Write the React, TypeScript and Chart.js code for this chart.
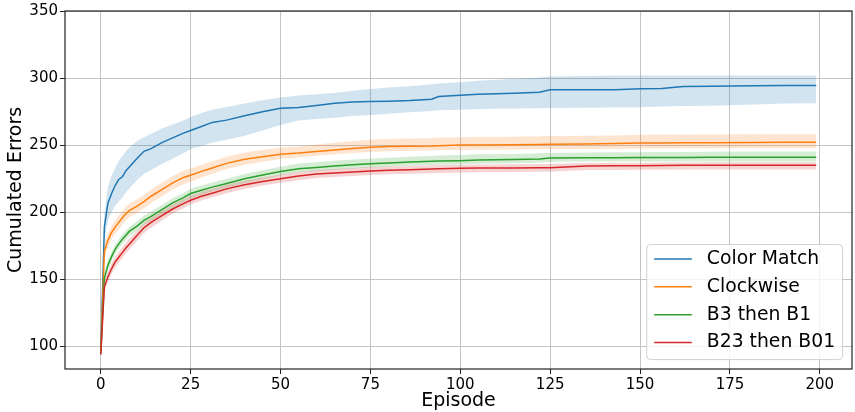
import React, { useEffect, useRef } from 'react';
import { Chart, registerables } from 'chart.js';

Chart.register(...registerables);

const EPISODES = [0, 1, 2, 3, 4, 5, 6, 7, 8, 10, 12, 14, 17, 20, 23, 25, 28, 31, 35, 40, 45, 50, 55, 60, 65, 70, 75, 80, 86, 92, 94, 100, 105, 115, 122, 125, 135, 143, 150, 156, 162, 170, 182, 190, 199];

const X_TICKS = [0, 25, 50, 75, 100, 125, 150, 175, 200];
const Y_TICKS = [100, 150, 200, 250, 300, 350];

const SERIES_LABELS = ['Color Match', 'Clockwise', 'B3 then B1', 'B23 then B01'];
const COLORS = ['#1f77b4', '#ff7f0e', '#2ca02c', '#d62728'];
const BAND_COLORS = ['rgba(31,119,180,0.2)', 'rgba(255,127,14,0.2)', 'rgba(44,160,44,0.2)', 'rgba(214,39,40,0.2)'];

const COLOR_MATCH_MEAN = [96, 189, 207, 214, 220, 224.5, 226.5, 231, 234, 240, 245.5, 247.5, 252, 255.5, 259, 261, 264, 267, 268.7, 272, 275, 277.5, 278.1, 279.6, 281.3, 282.2, 282.6, 282.8, 283.3, 284.3, 286.3, 287.3, 288, 288.7, 289.5, 291.3, 291.3, 291.3, 292, 292.2, 293.8, 294, 294.4, 294.5, 294.5];
const COLOR_MATCH_UPPER = [97, 199, 219, 227, 233, 238, 242, 245.5, 248.5, 253, 256, 258.5, 262.5, 265.5, 268.5, 271, 274, 276.5, 278.5, 281, 283.5, 285.5, 287, 288, 289, 290.5, 291.8, 293, 294, 295.5, 296, 297, 298, 299.5, 300.5, 301.2, 301.5, 302, 302, 302, 302, 302, 302, 302, 302];
const COLOR_MATCH_LOWER = [95, 179, 194, 200, 205, 208, 211, 215, 218, 224, 228.5, 231.5, 236, 240, 244, 247, 249.5, 252, 254, 257, 261, 265, 268.5, 269.5, 270.5, 271.8, 272.6, 273.5, 274.5, 275.5, 276, 276.5, 277, 277.4, 277.6, 277.8, 278, 278.1, 278.3, 278.8, 279.2, 279.5, 280.3, 281, 281.3];

const CLOCKWISE_MEAN = [95, 171, 179.3, 185, 189, 192.5, 196, 199, 201.5, 204.5, 208, 212, 217, 222, 226, 227.7, 230.5, 233, 236.5, 239.5, 241.5, 243.3, 244.2, 245.4, 246.5, 247.5, 248.5, 249, 249.3, 249.5, 249.7, 250.2, 250.2, 250.4, 250.6, 250.7, 251, 251.2, 251.7, 251.7, 251.8, 251.9, 252.1, 252.2, 252.2];
const CLOCKWISE_UPPER = [96, 177, 184.5, 190, 194, 197.5, 201, 204, 206.5, 209.5, 213, 217, 222, 227, 231, 232.7, 235.5, 238, 241.5, 244.5, 246.5, 248.2, 249.1, 250.5, 251.8, 252.9, 254, 254.6, 255, 255.3, 255.5, 256, 256.1, 256.4, 256.7, 256.8, 257.1, 257.3, 257.8, 257.8, 257.9, 258, 258.2, 258.2, 258.2];
const CLOCKWISE_LOWER = [94, 165, 174, 180, 184, 187.5, 191, 194, 196.5, 199.5, 203, 207, 212, 217, 221, 223, 226, 228.7, 232.3, 235.5, 237.7, 239.7, 241, 242.2, 243.3, 244.2, 245, 245.5, 245.8, 246, 246.2, 246.5, 246.6, 246.8, 247, 247, 247.2, 247.3, 247.6, 247.6, 247.7, 247.7, 247.8, 247.8, 247.8];

const B3_B1_MEAN = [95, 151, 160.7, 167, 172.5, 176.5, 180, 183, 186, 189.5, 194, 197, 202, 207, 211, 214, 216.5, 218.8, 221.5, 225, 227.8, 230.5, 232.5, 233.5, 234.6, 235.5, 236.2, 236.8, 237.5, 238, 238.2, 238.5, 239, 239.3, 239.8, 240.5, 240.6, 240.7, 240.8, 240.8, 240.9, 241, 241, 241, 241];
const B3_B1_UPPER = [96, 155, 164.5, 170.5, 176, 180, 183.5, 186.5, 189.5, 193, 197.5, 200.5, 205.5, 210.5, 214.5, 217.5, 220, 222.3, 225, 228.5, 231.3, 234, 236.3, 237.3, 238.4, 239.3, 240, 240.7, 241.5, 242, 242.3, 242.7, 243.2, 243.5, 244, 244.3, 244.5, 244.7, 244.8, 244.9, 245, 245.2, 245.3, 245.3, 245.3];
const B3_B1_LOWER = [94, 147, 157, 163.5, 169, 173, 176.5, 179.5, 182.5, 186, 190.5, 193.5, 198.5, 203.5, 207.5, 210.5, 213, 215.5, 218.3, 221.8, 224.7, 227.5, 229.8, 230.8, 231.8, 232.7, 233.4, 234, 234.7, 235.2, 235.4, 235.7, 236.2, 236.5, 237, 237.7, 237.8, 237.8, 237.8, 237.8, 237.8, 237.8, 237.8, 237.8, 237.8];

const B23_B01_MEAN = [94, 144.5, 152, 158, 163, 166.5, 170, 173.5, 176.5, 182.5, 188.5, 192.5, 197.5, 202.5, 206.5, 209, 212, 214.3, 217.5, 220.5, 223, 225, 227, 228.5, 229.3, 230, 230.8, 231.3, 231.8, 232.3, 232.5, 232.8, 233, 233, 233.2, 233.3, 234.6, 234.7, 234.8, 234.9, 235, 235.1, 235.1, 235.1, 235.1];
const B23_B01_UPPER = [95, 148.5, 156, 162, 167, 170.5, 174, 177.5, 180.5, 186, 192, 196, 201, 205.8, 209.8, 212.2, 215.2, 217.5, 220.6, 223.5, 226, 228, 230.2, 231.5, 232.3, 233, 233.7, 234.2, 234.6, 235, 235.2, 235.5, 235.7, 235.8, 236, 236.1, 236.8, 236.9, 237, 237.1, 237.2, 237.3, 237.3, 237.3, 237.3];
const B23_B01_LOWER = [93, 140.5, 148, 154, 159, 162.5, 166, 169.5, 172.5, 178.5, 184.5, 188.5, 194, 199, 203, 205.8, 208.8, 211.2, 214.3, 217.4, 220, 222, 224, 225.5, 226.3, 227, 227.8, 228.3, 228.8, 229.2, 229.4, 229.7, 229.9, 230, 230.2, 230.3, 231.5, 231.6, 231.7, 231.8, 231.9, 232, 232, 232, 232];

const MEANS = [COLOR_MATCH_MEAN, CLOCKWISE_MEAN, B3_B1_MEAN, B23_B01_MEAN];
const UPPERS = [COLOR_MATCH_UPPER, CLOCKWISE_UPPER, B3_B1_UPPER, B23_B01_UPPER];
const LOWERS = [COLOR_MATCH_LOWER, CLOCKWISE_LOWER, B3_B1_LOWER, B23_B01_LOWER];

const FONT = 'DejaVu Sans';

const toPoints = (ys: number[]) => EPISODES.map((x, i) => ({ x, y: ys[i] }));

const framePlugin = {
  id: 'frame',
  afterDatasetsDraw(chart: any) {
    const { ctx, chartArea: ca } = chart;
    ctx.save();
    ctx.strokeStyle = '#222';
    ctx.lineWidth = 1.2;
    ctx.strokeRect(ca.left, ca.top, ca.right - ca.left, ca.bottom - ca.top);
    ctx.restore();
  },
};

const legendPlugin = {
  id: 'mplLegend',
  afterDraw(chart: any) {
    const { ctx, chartArea: ca } = chart;
    const fs = 18.8;
    ctx.save();
    ctx.font = `${fs}px "${FONT}"`;
    const maxW = Math.max(...SERIES_LABELS.map((l) => ctx.measureText(l).width));
    const pad = 0.4 * fs;
    const handle = 2 * fs;
    const hpad = 0.8 * fs;
    const w = pad + handle + hpad + maxW + pad;
    const h = 6.12 * fs;
    const x = ca.right - 0.5 * fs - w;
    const y = ca.bottom - 0.5 * fs - h;
    ctx.beginPath();
    if ((ctx as any).roundRect) (ctx as any).roundRect(x, y, w, h, 4);
    else ctx.rect(x, y, w, h);
    ctx.fillStyle = 'rgba(255,255,255,0.8)';
    ctx.fill();
    ctx.strokeStyle = 'rgba(204,204,204,0.9)';
    ctx.lineWidth = 1;
    ctx.stroke();
    SERIES_LABELS.forEach((label, i) => {
      const cy = y + 0.77 * fs + i * 1.48 * fs;
      ctx.strokeStyle = COLORS[i];
      ctx.lineWidth = 1.5;
      ctx.beginPath();
      ctx.moveTo(x + pad, cy);
      ctx.lineTo(x + pad + handle, cy);
      ctx.stroke();
      ctx.fillStyle = '#000';
      ctx.textBaseline = 'middle';
      ctx.textAlign = 'left';
      ctx.fillText(label, x + pad + handle + hpad, cy);
    });
    ctx.restore();
  },
};

export default function App() {
  const canvasRef = useRef<HTMLCanvasElement | null>(null);

  useEffect(() => {
    if (!canvasRef.current) return;
    const datasets: any[] = [];
    SERIES_LABELS.forEach((label, i) => {
      const lowerIdx = datasets.length;
      datasets.push({
        label: label + ' lower',
        data: toPoints(LOWERS[i]),
        borderWidth: 0,
        borderColor: 'rgba(0,0,0,0)',
        pointRadius: 0,
        fill: false,
        order: 10 - i,
      });
      datasets.push({
        label: label + ' upper',
        data: toPoints(UPPERS[i]),
        borderWidth: 0,
        borderColor: 'rgba(0,0,0,0)',
        backgroundColor: BAND_COLORS[i],
        pointRadius: 0,
        fill: lowerIdx,
        order: 10 - i,
      });
      datasets.push({
        label,
        data: toPoints(MEANS[i]),
        borderColor: COLORS[i],
        borderWidth: 1.5,
        pointRadius: 0,
        fill: false,
        tension: 0,
        order: 5 - i,
      });
    });

    const tickFont = { family: FONT, size: 15 };
    const chart = new Chart(canvasRef.current, {
      type: 'line',
      data: { datasets },
      options: {
        animation: false,
        responsive: false,
        maintainAspectRatio: false,
        layout: { padding: { left: 0, right: 3, top: 11, bottom: 0 } },
        plugins: {
          legend: { display: false },
          tooltip: { enabled: false },
        },
        scales: {
          x: {
            type: 'linear',
            min: -9.95,
            max: 208.95,
            afterBuildTicks: (s: any) => {
              s.ticks = X_TICKS.map((v) => ({ value: v }));
            },
            afterFit: (s: any) => {
              s.height = 43;
            },
            ticks: { font: tickFont, color: '#000', padding: 2, maxRotation: 0, autoSkip: false },
            grid: { color: '#c4c4c4', lineWidth: 1, tickLength: 5, tickColor: '#222', drawTicks: true },
            border: { display: false },
            title: {
              display: true,
              text: 'Episode',
              color: '#000',
              font: { family: FONT, size: 19 },
              padding: { top: 0, bottom: 0 },
            },
          },
          y: {
            type: 'linear',
            min: 83.3,
            max: 350,
            afterBuildTicks: (s: any) => {
              s.ticks = Y_TICKS.map((v) => ({ value: v }));
            },
            afterFit: (s: any) => {
              s.width = 65;
            },
            ticks: { font: tickFont, color: '#000', padding: 2 },
            grid: { color: '#c4c4c4', lineWidth: 1, tickLength: 5, tickColor: '#222', drawTicks: true },
            border: { display: false },
            title: {
              display: true,
              text: 'Cumulated Errors',
              color: '#000',
              font: { family: FONT, size: 19 },
              padding: { top: 4.5, bottom: 0 },
            },
          },
        },
      },
      plugins: [framePlugin, legendPlugin],
    });
    return () => chart.destroy();
  }, []);

  return (
    <div style={{ position: 'absolute', left: 0, top: 0, width: 855, height: 412, background: '#fff' }}>
      <canvas ref={canvasRef} width={855} height={412} style={{ display: 'block' }} />
    </div>
  );
}
